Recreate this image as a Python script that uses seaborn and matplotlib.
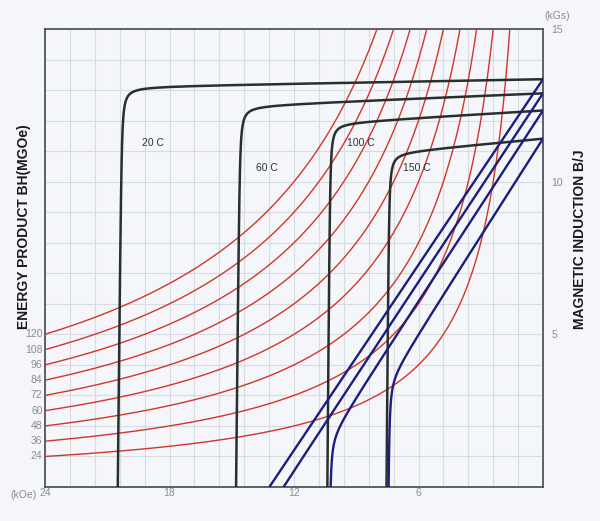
import numpy as np
import pandas as pd
import matplotlib
matplotlib.use("Agg")
import matplotlib.pyplot as plt
import matplotlib.transforms as mtransforms
from matplotlib.ticker import FixedLocator, MultipleLocator
import seaborn as sns

# ---------------- data ----------------
energy_products = [24, 36, 48, 60, 72, 84, 96, 108, 120]          # MGOe iso-lines
temps = ["20 C", "60 C", "100 C", "150 C"]
remanence = [13.36, 12.90, 12.34, 11.42]        # J at H = 0 (kGs)
coercivity_hcj = [20.5, 14.8, 10.4, 7.55]       # intrinsic coercivity at J = 0 (kOe)
plateau_slope = [0.012, 0.028, 0.040, 0.062]    # kGs per kOe along the plateau
steep_slope = [70.0, 70.0, 90.0, 90.0]          # kGs per kOe along the collapse
corner_px = [8.0, 8.0, 7.5, 7.5]                # rounding of the knee (pixels)
label_H = [18.8, 13.3, 8.8, 6.1]
label_B = [11.27, 10.45, 11.27, 10.45]
x_tick_values = [24, 18, 12, 6]
x_tick_labels = ["24", "18", "12", "6"]
y_tick_values = [5, 10, 15]
y_tick_labels = ["5", "10", "15"]

PX_PER_KOE = 498 / 24.0
PX_PER_KGS = 458 / 15.0

# ---------------- build tables ----------------
red_rows = []
for E in energy_products:
    H = np.linspace(E / 15.0, 24, 500)
    red_rows.append(pd.DataFrame({"H": H, "B": E / H, "E": E}))
red_df = pd.concat(red_rows, ignore_index=True)

j_rows, b_rows = [], []
for t, jr, hcj, s, k, r in zip(temps, remanence, coercivity_hcj, plateau_slope,
                               steep_slope, corner_px):
    c = r * r / (PX_PER_KOE * PX_PER_KGS)
    H = np.concatenate([np.linspace(0, hcj - 1.0, 300),
                        np.linspace(hcj - 1.0, hcj, 4000)[1:]])
    a = jr - s * H
    g = hcj - H
    J = ((a + g * k) - np.sqrt((a - g * k) ** 2 + 4 * k * c)) / 2.0
    keep = J >= 0
    Hj, Jj = H[keep], J[keep]
    h_end = hcj - c / (jr - s * hcj)
    Hj = np.append(Hj, h_end)
    Jj = np.append(Jj, 0.0)
    j_rows.append(pd.DataFrame({"H": Hj, "B": Jj, "T": t}))

    B = Jj - Hj
    keepb = B >= 0
    Hb, Bb = Hj[keepb], B[keepb]
    idx = int(np.argmax(~keepb))
    if idx > 0:
        h0, h1, b0, b1 = Hj[idx - 1], Hj[idx], B[idx - 1], B[idx]
        hz = h0 + (h1 - h0) * b0 / (b0 - b1)
        Hb = np.append(Hb, hz)
        Bb = np.append(Bb, 0.0)
    b_rows.append(pd.DataFrame({"H": Hb, "B": Bb, "T": t}))
j_df = pd.concat(j_rows, ignore_index=True)
b_df = pd.concat(b_rows, ignore_index=True)

# ---------------- figure ----------------
sns.set_theme(style="white")
plt.rcParams["font.family"] = ["Liberation Sans", "DejaVu Sans"]

bg = "#f4f6f9"
fig = plt.figure(figsize=(6.0, 5.21), dpi=100, facecolor=bg)
ax = fig.add_axes([45 / 600, 34 / 521, 498 / 600, 458 / 521])
ax.set_facecolor(bg)

sns.lineplot(data=red_df, x="H", y="B", units="E", estimator=None, sort=False,
             color="#d2352c", linewidth=1.0, ax=ax, zorder=3)
sns.lineplot(data=j_df, x="H", y="B", units="T", estimator=None, sort=False,
             color="#27302c", linewidth=1.8, ax=ax, zorder=4)
sns.lineplot(data=b_df, x="H", y="B", units="T", estimator=None, sort=False,
             color="#1b1f7c", linewidth=1.7, ax=ax, zorder=5)

ax.set_xlim(24, 0)
ax.set_ylim(0, 15)
ax.set_xlabel("")
ax.set_ylabel("")

ax.xaxis.set_major_locator(FixedLocator(x_tick_values))
ax.set_xticklabels(x_tick_labels)
ax.xaxis.set_minor_locator(MultipleLocator(1.2))
ax.yaxis.set_major_locator(FixedLocator(y_tick_values))
ax.set_yticklabels(y_tick_labels)
ax.yaxis.set_minor_locator(MultipleLocator(1.0))
ax.yaxis.tick_right()
ax.tick_params(axis="both", which="both", length=0, labelsize=7.5, labelcolor="#8a8d90")
ax.tick_params(axis="x", pad=0.5)
ax.tick_params(axis="y", pad=6)
ax.grid(True, which="both", color="#d6dce1", linewidth=0.8)
ax.set_axisbelow(True)

for sp in ax.spines.values():
    sp.set_visible(True)
    sp.set_color("#50565a")
    sp.set_linewidth(1.3)

# energy product labels on the left edge
trans = mtransforms.blended_transform_factory(ax.transAxes, ax.transData)
for E in energy_products:
    ax.text(-0.005, E / 24.0, str(E), transform=trans, ha="right", va="center",
            fontsize=7.5, color="#8a8d90")

# temperature labels
for t, hx, by in zip(temps, label_H, label_B):
    ax.text(hx, by, t, ha="center", va="center", fontsize=7.5, color="#2f3432",
            zorder=6)

# unit labels
ax.text(-0.044, -0.006, "(kOe)", transform=ax.transAxes, ha="center", va="top",
        fontsize=7.5, color="#8a8d90")
ax.text(1.028, 1.028, "(kGs)", transform=ax.transAxes, ha="center", va="center",
        fontsize=7.5, color="#8a8d90")

fig.text(24 / 600, (521 - 227) / 521, "ENERGY PRODUCT BH(MGOe)", rotation=90,
         ha="center", va="center", fontsize=10, fontweight="bold", color="#1a1a1a")
fig.text(580 / 600, (521 - 239) / 521, "MAGNETIC INDUCTION B/J", rotation=90,
         ha="center", va="center", fontsize=10, fontweight="bold", color="#1a1a1a")

fig.savefig("out.png", dpi=100, facecolor=bg)
